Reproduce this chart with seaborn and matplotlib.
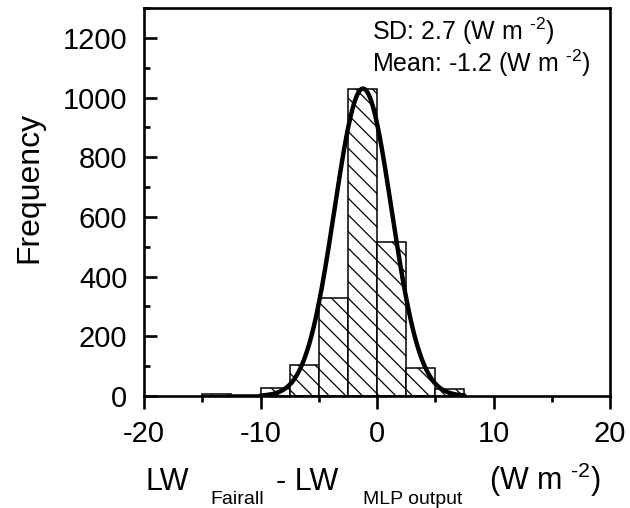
import numpy as np
import pandas as pd
import seaborn as sns
import matplotlib.pyplot as plt
from matplotlib.ticker import MultipleLocator

# Histogram counts per 2.5 W m-2 bin
bin_edges = [-15, -12.5, -10, -7.5, -5, -2.5, 0, 2.5, 5, 7.5]
bin_counts = [8, 4, 27, 104, 330, 1027, 515, 94, 23]

# Fitted normal curve
curve_mean = -1.2
curve_sd = 2.45
curve_peak = 1030
curve_range = [-10, 7.5]

# superscript uses a real hyphen (U+2010) so it is not turned into a minus sign
sup = "$^{\u2010" + "2}$"
sd_text = "SD: 2.7 (W m " + sup + ")"
mean_text = "Mean: -1.2 (W m " + sup + ")"

sns.set_style("ticks")
plt.rcParams['font.family'] = ['Liberation Sans', 'DejaVu Sans']
plt.rcParams['mathtext.default'] = 'regular'
plt.rcParams['axes.unicode_minus'] = False
plt.rcParams['hatch.linewidth'] = 0.9
for key in ['text.color', 'axes.labelcolor', 'axes.edgecolor', 'xtick.color', 'ytick.color']:
    plt.rcParams[key] = 'black'

centers = [(a + b) / 2 for a, b in zip(bin_edges[:-1], bin_edges[1:])]
df = pd.DataFrame({'diff': centers, 'count': bin_counts})

fig = plt.figure(figsize=(6.3, 5.08), dpi=100)
ax = fig.add_axes([144 / 630, 1 - 396 / 508, 466 / 630, 388 / 508])

sns.histplot(data=df, x='diff', weights='count', bins=bin_edges, ax=ax,
             color='white', edgecolor='black', linewidth=1.1,
             hatch='\\\\', alpha=1)

xs = np.linspace(curve_range[0], curve_range[1], 300)
ys = curve_peak * np.exp(-0.5 * ((xs - curve_mean) / curve_sd) ** 2)
sns.lineplot(x=xs, y=ys, ax=ax, color='black', linewidth=3.2)

ax.set_xlim(-20, 20)
ax.set_ylim(0, 1300)
ax.xaxis.set_major_locator(MultipleLocator(10))
ax.xaxis.set_minor_locator(MultipleLocator(5))
ax.yaxis.set_major_locator(MultipleLocator(200))
ax.yaxis.set_minor_locator(MultipleLocator(100))

for s in ax.spines.values():
    s.set_linewidth(1.9)
    s.set_color('black')
ax.tick_params(axis='y', which='both', direction='in', labelsize=21, pad=12, width=1.9)
ax.tick_params(axis='x', which='both', direction='out', labelsize=21, pad=8, width=1.9)
ax.tick_params(which='major', length=9)
ax.tick_params(which='minor', length=4.5)

ax.set_xlabel('')
ax.set_ylabel('Frequency', fontsize=23, va='center')
ax.yaxis.set_label_coords(-0.245, 0.538)

fig.text(372 / 630, 1 - 40 / 508, sd_text, fontsize=18, va='baseline', ha='left')
fig.text(372 / 630, 1 - 72 / 508, mean_text, fontsize=18, va='baseline', ha='left')

# x-axis label built from pieces with deep subscripts
base_y = 1 - 490 / 508
sub_y = 1 - 504 / 508
fig.text(146 / 630, base_y, 'LW', fontsize=22, va='baseline')
fig.text(210 / 630, sub_y, 'Fairall', fontsize=14, va='baseline')
fig.text(276 / 630, base_y, '- LW', fontsize=22, va='baseline')
fig.text(363 / 630, sub_y, 'MLP output', fontsize=14, va='baseline')
fig.text(489 / 630, base_y, '(W m ' + sup + ')', fontsize=22, va='baseline')

fig.savefig('out.png', dpi=100)
